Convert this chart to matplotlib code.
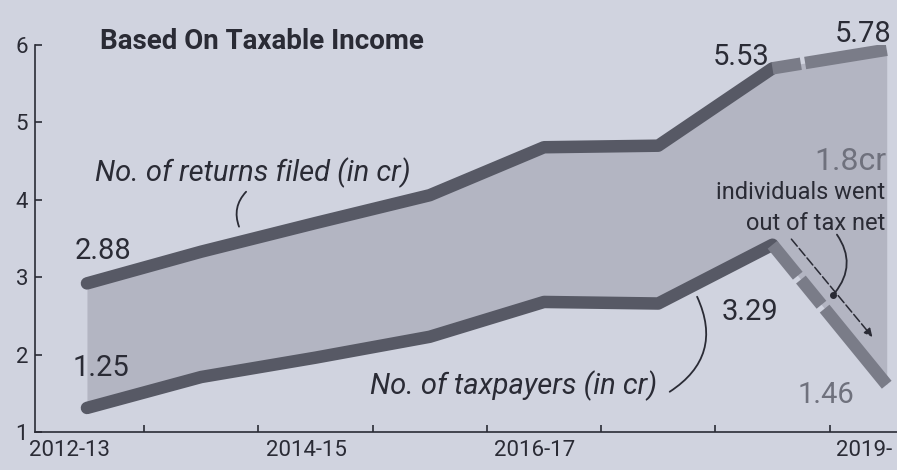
import matplotlib.pyplot as plt
from matplotlib import font_manager

# values (crore)
years = ["2012-13", "2013-14", "2014-15", "2015-16", "2016-17", "2017-18", "2018-19", "2019-20"]
returns_filed = [2.92, 3.33, 3.70, 4.06, 4.68, 4.70, 5.70, 5.94]
taxpayers = [1.31, 1.71, 1.96, 2.23, 2.68, 2.66, 3.42, 1.61]

# printed labels
tick_labels = ["2012-13", "2014-15", "2016-17", "2019-"]
tick_pos = [-0.15, 1.92, 3.92, 6.8]
returns_labels = {0: "2.88", 6: "5.53", 7: "5.78"}
taxpayer_labels = {0: "1.25", 6: "3.29", 7: "1.46"}

installed = {f.name for f in font_manager.fontManager.ttflist}
main_font = "Roboto" if "Roboto" in installed else "Liberation Sans"
plt.rcParams["font.family"] = [main_font, "DejaVu Sans"]

BG = "#d0d3df"
BAND = "#b3b5c2"
LINE = "#575965"
LINE_LIGHT = "#7a7c88"
TEXT = "#2a2b35"
FADED = "#6f717d"

fig = plt.figure(figsize=(8.97, 4.70), dpi=100, facecolor=BG)
ax = fig.add_axes([0.039, 0.081, 0.961, 0.823], facecolor=BG)

x = list(range(len(years)))

ax.fill_between(x, taxpayers, returns_filed, color=BAND, lw=0, zorder=1)

# solid part up to 2018-19, broken final year
ax.plot(x[:7], returns_filed[:7], color=LINE, lw=9, solid_capstyle="round",
        solid_joinstyle="round", zorder=3)
ax.plot(x[:7], taxpayers[:7], color=LINE, lw=9, solid_capstyle="round",
        solid_joinstyle="round", zorder=3)
ax.plot(x[6:], returns_filed[6:], color=LINE_LIGHT, lw=9, dashes=(2.3, 0.35, 30, 0.1),
        dash_capstyle="butt", zorder=3)
ax.plot(x[6:], taxpayers[6:], color=LINE_LIGHT, lw=9, dashes=(3.2, 0.4, 2.6, 0.4, 30, 0.1),
        dash_capstyle="butt", zorder=3)

ax.set_xlim(-0.455, 7.09)
ax.set_ylim(1, 6)

for s in ["top", "right"]:
    ax.spines[s].set_visible(False)
ax.spines["left"].set_color(TEXT)
ax.spines["bottom"].set_color(TEXT)
ax.spines["left"].set_linewidth(1.2)
ax.spines["bottom"].set_linewidth(1.2)

ax.set_yticks([1, 2, 3, 4, 5, 6])
ax.tick_params(axis="y", direction="in", length=5, width=1.2, colors=TEXT,
               labelsize=16, pad=5)
ax.set_xticks(tick_pos)
ax.set_xticklabels(tick_labels)
ax.set_xticks([i + 0.5 for i in range(7)], minor=True)
ax.tick_params(axis="x", which="major", length=0, colors=TEXT, labelsize=16, pad=6)
ax.tick_params(axis="x", which="minor", direction="in", length=5, width=1.2, colors=TEXT)

# value labels
ax.text(0.14, returns_filed[0] + 0.42, returns_labels[0], fontsize=21, color=TEXT, ha="center", va="center")
ax.text(5.73, 5.84, returns_labels[6], fontsize=21, color=TEXT, ha="center", va="center")
ax.text(7.04, 6.15, returns_labels[7], fontsize=21, color=TEXT, ha="right", va="center", clip_on=False)
ax.text(0.12, taxpayers[0] + 0.52, taxpayer_labels[0], fontsize=21, color=TEXT, ha="center", va="center")
ax.text(5.8, 2.55, taxpayer_labels[6], fontsize=21, color=TEXT, ha="center", va="center")
ax.text(6.47, 1.48, taxpayer_labels[7], fontsize=21, color=FADED, ha="center", va="center")

ax.text(0.11, 6.05, "Based On Taxable Income", fontsize=20, fontweight="bold", color=TEXT,
        ha="left", va="center", clip_on=False)

ax.text(0.07, 4.35, "No. of returns filed (in cr)", fontsize=21, fontstyle="italic",
        color=TEXT, ha="left", va="center")
ax.text(2.48, 1.6, "No. of taxpayers (in cr)", fontsize=21, fontstyle="italic",
        color=TEXT, ha="left", va="center")

ax.text(7.0, 4.5, "1.8cr", fontsize=23, color=FADED, ha="right", va="center")
ax.text(6.99, 4.09, "individuals went", fontsize=17, color=TEXT, ha="right", va="center")
ax.text(6.99, 3.7, "out of tax net", fontsize=17, color=TEXT, ha="right", va="center")

# leader lines
ax.annotate("", xy=(1.34, 3.62), xytext=(1.41, 4.13),
            arrowprops=dict(arrowstyle="-", color=TEXT, lw=1.3,
                            connectionstyle="arc3,rad=0.35"))
ax.annotate("", xy=(5.33, 2.78), xytext=(5.08, 1.5),
            arrowprops=dict(arrowstyle="-", color=TEXT, lw=1.3,
                            connectionstyle="arc3,rad=0.45"))
ax.annotate("", xy=(6.53, 2.77), xytext=(6.55, 3.58),
            arrowprops=dict(arrowstyle="-", color=TEXT, lw=1.3,
                            connectionstyle="arc3,rad=-0.4"))
ax.plot([6.53], [2.77], "o", color=TEXT, ms=4, zorder=5)
# arrow showing the drop
ax.annotate("", xy=(6.89, 2.2), xytext=(6.15, 3.52),
            arrowprops=dict(arrowstyle="-|>", color=TEXT, lw=1.1, mutation_scale=12,
                            linestyle=(0, (6, 2))))

fig.savefig("out.png", dpi=100, facecolor=BG)
